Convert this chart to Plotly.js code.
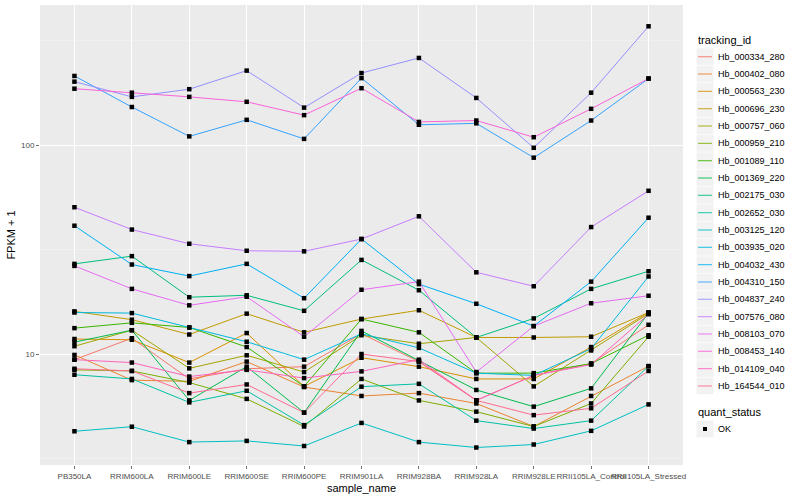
<!DOCTYPE html>
<html>
<head>
<meta charset="utf-8">
<script src="https://cdn.plot.ly/plotly-3.0.1.min.js"></script>
<style>body{margin:0;background:#fff}#chart{width:800px;height:500px}</style>
</head>
<body>
<div id="chart"></div>
<script>
const samples = ["PB350LA","RRIM600LA","RRIM600LE","RRIM600SE","RRIM600PE","RRIM901LA","RRIM928BA","RRIM928LA","RRIM928LE","RRII105LA_Control","RRII105LA_Stressed"];

const trackingIds = ["Hb_000334_280","Hb_000402_080","Hb_000563_230","Hb_000696_230","Hb_000757_060","Hb_000959_210","Hb_001089_110","Hb_001369_220","Hb_002175_030","Hb_002652_030","Hb_003125_120","Hb_003935_020","Hb_004032_430","Hb_004310_150","Hb_004837_240","Hb_007576_080","Hb_008103_070","Hb_008453_140","Hb_014109_040","Hb_164544_010"];

const colors = ["#F8766D","#EA8331","#D89000","#C09B00","#A3A500","#7CAE00","#39B600","#00BB4E","#00BF7D","#00C1A3","#00BFC4","#00BAE0","#00B0F6","#35A2FF","#9590FF","#C77CFF","#E76BF3","#FA62DB","#FF62BC","#FF6C91"];

const statusLabels = ["OK"];

// FPKM + 1 values per tracking_id, in sample order
const Hb_000334_280 = [9.4, 11.9, 7.6, 8.5, 8.7, 12.5, 9.2, 6.0, 7.9, 9.0, 13.8];
const Hb_000402_080 = [9.9, 7.5, 7.4, 9.2, 6.95, 6.3, 6.5, 5.8, 4.5, 6.3, 8.75];
const Hb_000563_230 = [11.8, 11.7, 9.1, 12.6, 7.0, 9.6, 8.7, 7.6, 7.6, 10.8, 15.8];
const Hb_000696_230 = [16.0, 14.6, 12.4, 15.6, 12.7, 14.7, 16.2, 12.0, 12.0, 12.1, 15.8];
const Hb_000757_060 = [10.9, 13.0, 8.54, 9.86, 8.2, 12.3, 11.2, 12.0, 7.0, 10.4, 15.6];
const Hb_000959_210 = [8.4, 8.3, 7.3, 6.1, 4.5, 7.6, 6.0, 5.3, 4.5, 5.8, 12.1];
const Hb_001089_110 = [13.3, 14.1, 13.4, 10.8, 7.0, 14.7, 12.7, 8.1, 8.1, 9.0, 12.3];
const Hb_001369_220 = [11.4, 13.0, 6.0, 8.7, 5.24, 12.9, 9.3, 6.73, 5.6, 6.85, 15.7];
const Hb_002175_030 = [27.0, 29.4, 18.7, 19.1, 16.1, 28.2, 20.2, 12.0, 14.8, 20.5, 24.9];
const Hb_002652_030 = [7.96, 7.6, 5.87, 6.67, 4.57, 6.98, 7.2, 4.8, 4.4, 4.8, 8.75];
const Hb_003125_120 = [4.27, 4.49, 3.79, 3.84, 3.63, 4.68, 3.79, 3.57, 3.69, 4.29, 5.74];
const Hb_003935_020 = [15.8, 15.7, 13.4, 11.45, 9.4, 12.5, 10.7, 8.1, 7.9, 10.6, 23.5];
const Hb_004032_430 = [41.1, 26.8, 23.6, 27.0, 18.5, 35.5, 21.6, 17.4, 13.6, 22.2, 44.9];
const Hb_004310_150 = [214, 152, 110, 132, 107, 209, 125, 127, 87, 131, 208];
const Hb_004837_240 = [201, 170, 185, 227, 151, 221, 261, 168, 97, 178, 370];
const Hb_007576_080 = [50.4, 39.4, 33.7, 31.2, 31.0, 35.5, 45.6, 24.6, 21.1, 40.5, 60.4];
const Hb_008103_070 = [26.4, 20.5, 17.1, 18.8, 12.1, 20.3, 22.2, 8.2, 13.6, 17.5, 19.0];
const Hb_008453_140 = [186, 178, 170, 161, 139, 187, 129, 131, 109, 149, 208];
const Hb_014109_040 = [9.4, 9.1, 7.8, 8.4, 7.67, 8.26, 9.4, 6.0, 7.9, 8.9, 15.5];
const Hb_164544_010 = [8.5, 8.3, 6.5, 7.15, 5.24, 10.0, 9.2, 6.0, 5.1, 5.5, 8.3];

const seriesValues = [Hb_000334_280,Hb_000402_080,Hb_000563_230,Hb_000696_230,Hb_000757_060,Hb_000959_210,Hb_001089_110,Hb_001369_220,Hb_002175_030,Hb_002652_030,Hb_003125_120,Hb_003935_020,Hb_004032_430,Hb_004310_150,Hb_004837_240,Hb_007576_080,Hb_008103_070,Hb_008453_140,Hb_014109_040,Hb_164544_010];

const yTicks = [10, 100];
const yTickText = ["10", "100"];
const yMinor = [3.1623, 31.623, 316.23];

const traces = [];
trackingIds.forEach((id, i) => {
  traces.push({
    type: 'scatter', mode: 'lines', x: samples, y: seriesValues[i], name: id,
    line: {color: colors[i], width: 1}, showlegend: false, hoverinfo: 'skip'
  });
});
trackingIds.forEach((id, i) => {
  traces.push({
    type: 'scatter', mode: 'markers', x: samples, y: seriesValues[i], name: statusLabels[0],
    marker: {color: '#000', symbol: 'square', size: 4.5}, showlegend: false, hoverinfo: 'skip'
  });
});

// ---- custom ggplot-style legend (pixel -> paper conversion) ----
const W = 800, H = 500, mL = 40, mR = 117, mT = 5, mB = 35;
const pw = W - mL - mR, ph = H - mT - mB;
const px = x => (x - mL) / pw;
const py = y => (H - mB - y) / ph;

const annotations = [];
const shapes = [];
const legX = 696, keyW = 17, rowH = 17.33, firstRow = 56.7;
annotations.push({xref: 'paper', yref: 'paper', x: px(legX), y: py(40), xanchor: 'left', yanchor: 'middle',
  text: 'tracking_id', showarrow: false, font: {size: 11, color: '#000'}});
trackingIds.forEach((id, i) => {
  const cy = firstRow + i * rowH;
  shapes.push({type: 'rect', xref: 'paper', yref: 'paper', x0: px(legX + 0.5), x1: px(legX + 0.5 + keyW),
    y0: py(cy - rowH / 2 + 0.3), y1: py(cy + rowH / 2 - 0.3), fillcolor: '#F2F2F2', line: {width: 0}, layer: 'above'});
  shapes.push({type: 'line', xref: 'paper', yref: 'paper', x0: px(legX + 2), x1: px(legX + keyW - 1),
    y0: py(cy), y1: py(cy), line: {color: colors[i], width: 1.2}, opacity: 0.75, layer: 'above'});
  annotations.push({xref: 'paper', yref: 'paper', x: px(716), y: py(cy), xanchor: 'left', yanchor: 'middle',
    text: id, showarrow: false, font: {size: 9, color: '#000'}});
});
annotations.push({xref: 'paper', yref: 'paper', x: px(legX), y: py(412), xanchor: 'left', yanchor: 'middle',
  text: 'quant_status', showarrow: false, font: {size: 11, color: '#000'}});
shapes.push({type: 'rect', xref: 'paper', yref: 'paper', x0: px(legX + 0.5), x1: px(legX + 0.5 + keyW),
  y0: py(429 - 8.4), y1: py(429 + 8.4), fillcolor: '#F2F2F2', line: {width: 0}, layer: 'above'});
shapes.push({type: 'rect', xref: 'paper', yref: 'paper', x0: px(703), x1: px(707),
  y0: py(427), y1: py(431), fillcolor: '#000', line: {width: 0}, layer: 'above'});
annotations.push({xref: 'paper', yref: 'paper', x: px(716), y: py(429), xanchor: 'left', yanchor: 'middle',
  text: statusLabels[0], showarrow: false, font: {size: 9, color: '#000'}});

const layout = {
  width: W, height: H,
  margin: {l: mL, r: mR, t: mT, b: mB},
  paper_bgcolor: '#fff', plot_bgcolor: '#EBEBEB',
  font: {family: 'Liberation Sans, Arial, sans-serif', color: '#000'},
  showlegend: false,
  xaxis: {
    type: 'category', range: [-0.6, 10.6], tickangle: 0,
    showgrid: true, gridcolor: '#fff', gridwidth: 1, zeroline: false,
    ticks: 'outside', ticklen: 3, tickcolor: '#333', tickwidth: 0.7,
    tickfont: {size: 8, color: '#4D4D4D'},
    title: {text: 'sample_name', font: {size: 11, color: '#000'}, standoff: 4},
    showline: false, automargin: false
  },
  yaxis: {
    type: 'log', range: [0.469, 2.670],
    tickvals: yTicks, ticktext: yTickText,
    showgrid: true, gridcolor: '#fff', gridwidth: 1, zeroline: false,
    minor: {tickvals: yMinor, showgrid: true, gridcolor: '#F5F5F5', gridwidth: 0.5, ticks: ''},
    ticks: 'outside', ticklen: 3, tickcolor: '#333', tickwidth: 0.7,
    tickfont: {size: 8, color: '#4D4D4D'},
    title: {text: 'FPKM + 1', font: {size: 11, color: '#000'}, standoff: 3},
    showline: false, automargin: false
  },
  annotations: annotations,
  shapes: shapes
};

Plotly.newPlot('chart', traces, layout, {displayModeBar: false, staticPlot: true});
</script>
</body>
</html>
